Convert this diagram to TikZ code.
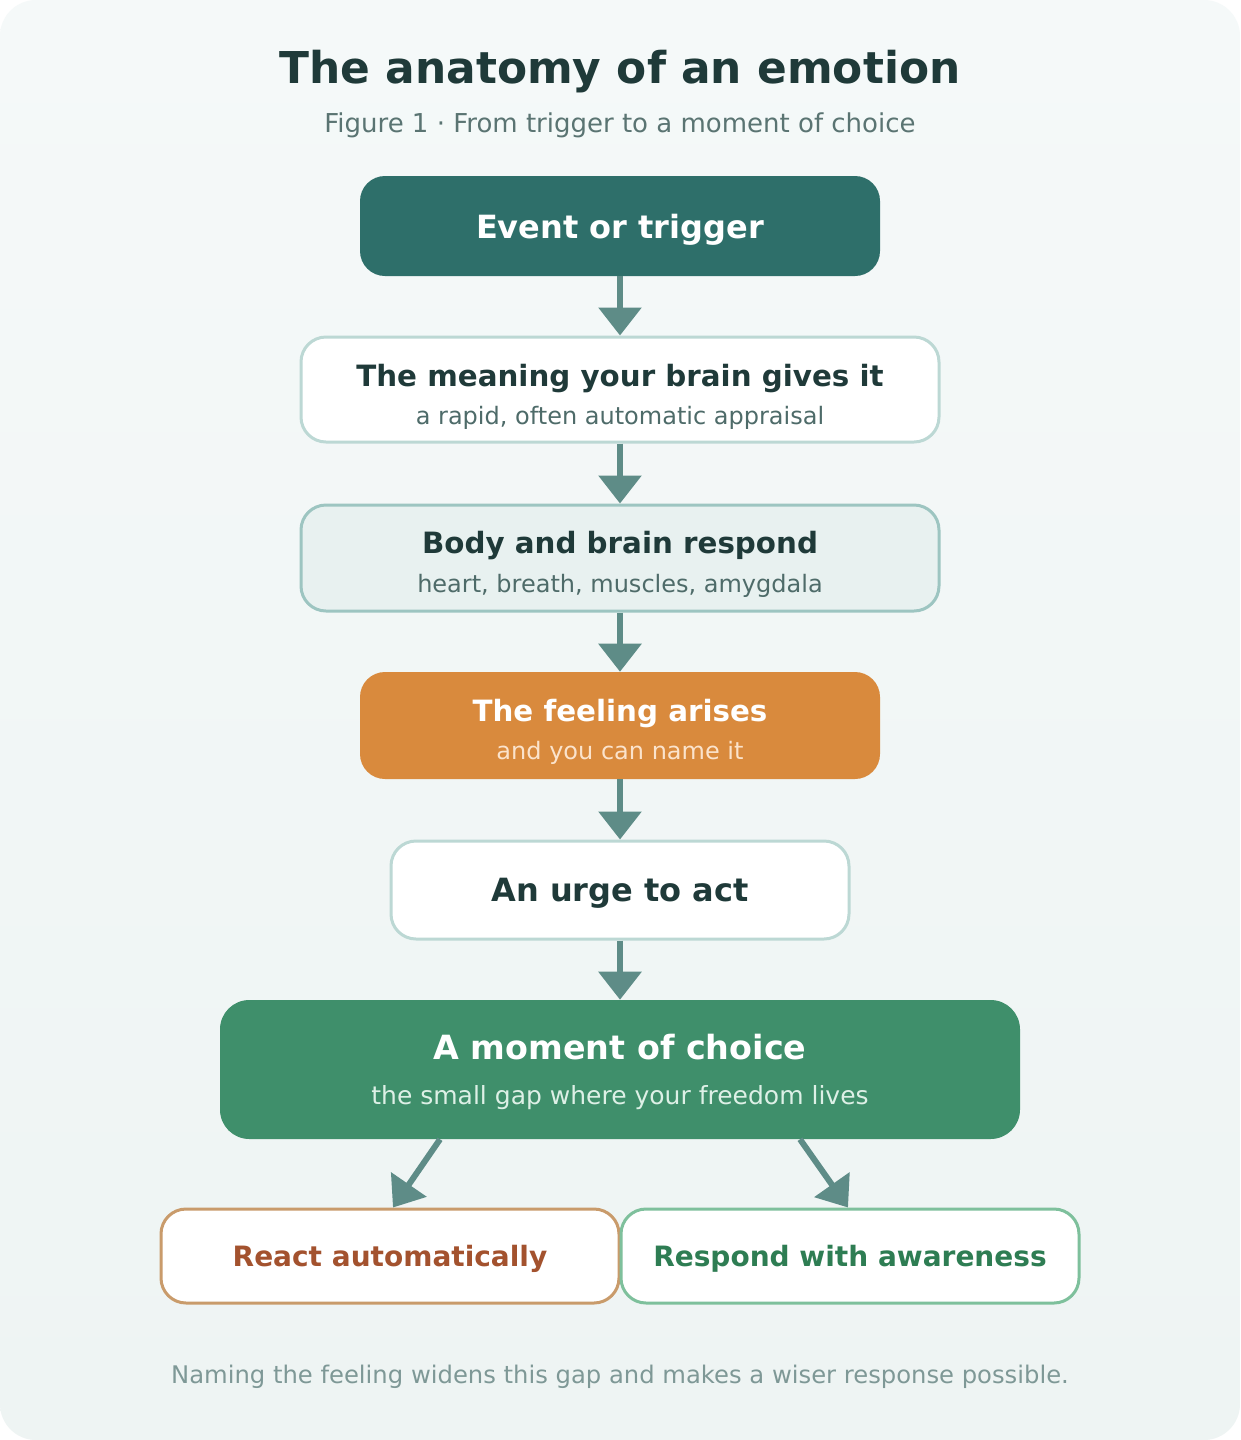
\documentclass[tikz,border=0pt]{standalone}
\usepackage{fontspec}
\setmainfont{DejaVu Sans}
\usetikzlibrary{arrows.meta,calc}
\definecolor{bgtop}{HTML}{F5F9F9}
\definecolor{bgbot}{HTML}{EEF4F3}
\definecolor{titlec}{HTML}{1F3A39}
\definecolor{subc}{HTML}{5A7472}
\definecolor{darkteal}{HTML}{2E6F6A}
\definecolor{arrowc}{HTML}{5E8C87}
\definecolor{paleborder}{HTML}{BCD8D4}
\definecolor{bodyfill}{HTML}{E8F1F0}
\definecolor{bodyborder}{HTML}{9DC5C1}
\definecolor{orangec}{HTML}{D98A3D}
\definecolor{orangetext}{HTML}{FBE3CC}
\definecolor{greenc}{HTML}{3F8F6B}
\definecolor{greentext}{HTML}{DDF0E6}
\definecolor{reactborder}{HTML}{C99B6B}
\definecolor{reacttext}{HTML}{A3522E}
\definecolor{respborder}{HTML}{7EC09C}
\definecolor{resptext}{HTML}{2E7D53}
\definecolor{boxsub}{HTML}{4E6B69}
\definecolor{footc}{HTML}{7E9896}
\newcommand\myfs[1]{\fontsize{#1}{#1}\selectfont}
\begin{document}
\begin{tikzpicture}[x=0.75pt,y=-0.75pt,
  box/.style={rectangle, rounded corners=18.75pt, inner sep=0pt},
  lbl/.style={inner sep=0pt, anchor=base},
  flow/.style={draw=arrowc, line width=4.5pt, -{Triangle[length=21pt,width=31.5pt]}}]
\useasboundingbox (0,0) rectangle (1240,1440);
\fill[white] (0,0) rectangle (1240,1440);
\shade[top color=bgtop, bottom color=bgbot, rounded corners=27pt] (0,0) rectangle (1240,1440);

\node[lbl, text=titlec, font=\myfs{32.9pt}\bfseries] (title) at (620,83) {The anatomy of an emotion};
\node[lbl, text=subc, font=\myfs{19.5pt}] (subtitle) at (620,132) {Figure 1 · From trigger to a moment of choice};

\node[box, fill=darkteal, minimum width=390pt, minimum height=75pt] (event) at (620,226) {};
\node[box, fill=white, draw=paleborder, line width=2.25pt, minimum width=478.5pt, minimum height=78.75pt] (meaning) at (620,389.5) {};
\node[box, fill=bodyfill, draw=bodyborder, line width=2.25pt, minimum width=478.5pt, minimum height=79.5pt] (body) at (620,558) {};
\node[box, fill=orangec, minimum width=390pt, minimum height=80.25pt] (feeling) at (620,725.5) {};
\node[box, fill=white, draw=paleborder, line width=2.25pt, minimum width=343.5pt, minimum height=73.5pt] (urge) at (620,890) {};
\node[box, rounded corners=22pt, fill=greenc, minimum width=600pt, minimum height=104.25pt] (choice) at (620,1069.5) {};
\node[box, fill=white, draw=reactborder, line width=2.25pt, minimum width=343.5pt, minimum height=70.5pt] (react) at (390,1256) {};
\node[box, fill=white, draw=respborder, line width=2.25pt, minimum width=343.5pt, minimum height=70.5pt] (respond) at (850,1256) {};

\node[lbl, text=white, font=\myfs{24pt}\bfseries] (eventt) at (620,238) {Event or trigger};
\node[lbl, text=titlec, font=\myfs{22pt}\bfseries] (meaningt) at (620,386) {The meaning your brain gives it};
\node[lbl, text=boxsub, font=\myfs{18pt}] (meanings) at (620,424) {a rapid, often automatic appraisal};
\node[lbl, text=titlec, font=\myfs{22pt}\bfseries] (bodyt) at (620,553) {Body and brain respond};
\node[lbl, text=boxsub, font=\myfs{18pt}] (bodys) at (620,592) {heart, breath, muscles, amygdala};
\node[lbl, text=white, font=\myfs{22pt}\bfseries] (feelingt) at (620,721) {The feeling arises};
\node[lbl, text=orangetext, font=\myfs{18pt}] (feelings) at (620,759) {and you can name it};
\node[lbl, text=titlec, font=\myfs{24pt}\bfseries] (urget) at (620,901) {An urge to act};
\node[lbl, text=white, font=\myfs{25pt}\bfseries] (choicet) at (620,1059) {A moment of choice};
\node[lbl, text=greentext, font=\myfs{18.75pt}] (choices) at (620,1104) {the small gap where your freedom lives};
\node[lbl, text=reacttext, font=\myfs{21pt}\bfseries] (reactt) at (390,1266) {React automatically};
\node[lbl, text=resptext, font=\myfs{21pt}\bfseries] (respondt) at (850,1266) {Respond with awareness};
\node[lbl, text=footc, font=\myfs{18.2pt}] (footer) at (620,1383) {Naming the feeling widens this gap and makes a wiser response possible.};

\draw[flow] (event.south) -- (meaning.north);
\draw[flow] (meaning.south) -- (body.north);
\draw[flow] (body.south) -- (feeling.north);
\draw[flow] (feeling.south) -- (urge.north);
\draw[flow] (urge.south) -- (choice.north);
\draw[flow] ($(choice.south)+(-180,0)$) -- ($(react.north)+(3,0)$);
\draw[flow] ($(choice.south)+(180,0)$) -- ($(respond.north)+(-2,0)$);
\end{tikzpicture}
\end{document}
